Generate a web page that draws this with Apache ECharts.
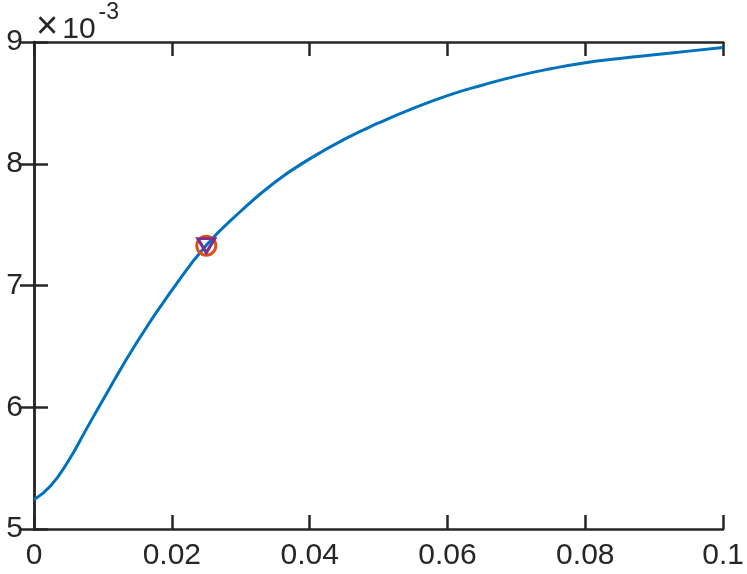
<!DOCTYPE html>
<html>
<head>
<meta charset="utf-8">
<script src="https://cdn.jsdelivr.net/npm/echarts@6/dist/echarts.min.js"></script>
<style>
  html, body { margin: 0; padding: 0; background: #fff; }
  #chart { width: 747px; height: 574px; }
</style>
</head>
<body>
<div id="chart"></div>
<script>
// curve values, y in units of 10^-3
const xValues = [0, 0.0025, 0.005, 0.0075, 0.01, 0.015, 0.02, 0.025, 0.03, 0.035, 0.04, 0.045, 0.05,
  0.055, 0.06, 0.065, 0.07, 0.075, 0.08, 0.085, 0.09, 0.095, 0.1]
const yValues = [5.24, 5.36, 5.56, 5.81, 6.06, 6.54, 6.96, 7.33, 7.61, 7.85, 8.04, 8.20, 8.335,
  8.455, 8.56, 8.645, 8.72, 8.78, 8.83, 8.865, 8.895, 8.925, 8.955]
const markerX = [0.025]
const markerY = [7.327]
const xTicks = [0, 0.02, 0.04, 0.06, 0.08, 0.1]
const yTicks = [5, 6, 7, 8, 9]

const axisColor = '#262626'
const fontFamily = 'Liberation Sans, Arial, sans-serif'

const curve = xValues.map((x, i) => [x, yValues[i]])
const marker = markerX.map((x, i) => [x, markerY[i]])

const chart = echarts.init(document.getElementById('chart'))

const baseX = {
  type: 'value',
  min: xTicks[0],
  max: xTicks[xTicks.length - 1],
  interval: 0.02,
  axisLine: { show: true, lineStyle: { color: axisColor, width: 2.5 } },
  axisTick: { show: true, inside: true, length: 14, lineStyle: { color: axisColor, width: 2.5 } },
  splitLine: { show: false }
}
const baseY = {
  type: 'value',
  min: yTicks[0],
  max: yTicks[yTicks.length - 1],
  interval: 1,
  axisLine: { show: true, lineStyle: { color: axisColor, width: 2.5 } },
  axisTick: { show: true, inside: true, length: 14, lineStyle: { color: axisColor, width: 2.5 } },
  splitLine: { show: false }
}

const option = {
  animation: false,
  grid: { left: 34, right: 20, top: 42, bottom: 45, containLabel: false },
  xAxis: [
    Object.assign({}, baseX, {
      position: 'bottom',
      axisLabel: { color: axisColor, fontSize: 30, fontFamily: fontFamily, margin: 12 }
    }),
    Object.assign({}, baseX, { position: 'top', axisLabel: { show: false } })
  ],
  yAxis: [
    Object.assign({}, baseY, {
      position: 'left',
      axisLabel: { color: axisColor, fontSize: 30, fontFamily: fontFamily, margin: 11 }
    }),
    Object.assign({}, baseY, { position: 'right', axisLabel: { show: false } })
  ],
  graphic: [{
    type: 'text',
    left: 36,
    top: 1,
    style: {
      text: '{a|×}{c|10}{b|-3}',
      rich: {
        a: { fontSize: 38, fontFamily: fontFamily, fill: axisColor, padding: [8, 4, 0, 0] },
        c: { fontSize: 30, fontFamily: fontFamily, fill: axisColor, padding: [12, 3, 0, 0] },
        b: { fontSize: 23, fontFamily: fontFamily, fill: axisColor, verticalAlign: 'top', padding: [0, 0, 14, 0] }
      }
    }
  }],
  series: [
    {
      type: 'line',
      data: curve,
      smooth: true,
      showSymbol: false,
      lineStyle: { color: '#0072BD', width: 3 },
      z: 2
    },
    {
      type: 'scatter',
      data: marker,
      symbol: 'circle',
      symbolSize: 19,
      itemStyle: { color: 'rgba(0,0,0,0)', borderColor: '#D95319', borderWidth: 3, opacity: 1 },
      z: 3
    },
    {
      type: 'scatter',
      data: marker,
      symbol: 'triangle',
      symbolRotate: 180,
      symbolSize: [17, 14],
      itemStyle: { color: 'rgba(0,0,0,0)', borderColor: '#7E2F8E', borderWidth: 3, opacity: 1 },
      z: 4
    }
  ]
}

chart.setOption(option)
</script>
</body>
</html>
